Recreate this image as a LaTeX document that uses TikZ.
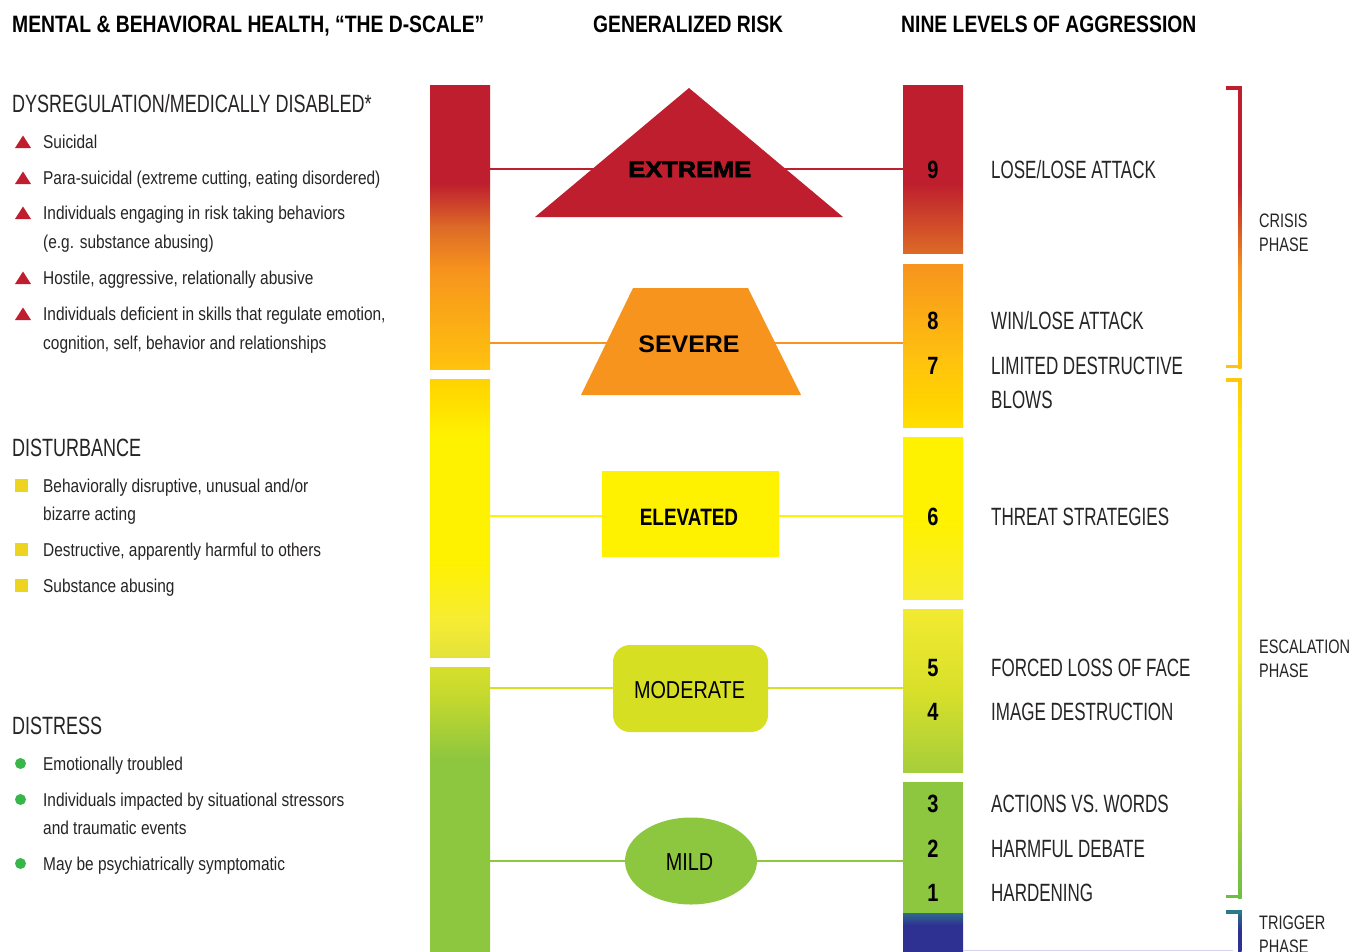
\documentclass[tikz,border=0pt]{standalone}
\usepackage{fontspec}
\setmainfont{Liberation Sans}
\newfontfamily\fntB{Liberation Sans}[FakeStretch=0.8]
\newfontfamily\fntH{Liberation Sans}[FakeStretch=0.815]
\newfontfamily\fntS{Liberation Sans}[FakeStretch=0.72]
\newfontfamily\fntC{Liberation Sans}[FakeStretch=0.68]
\newfontfamily\fntL{Liberation Sans}[FakeStretch=0.83]
\newfontfamily\fntP{Liberation Sans}[FakeStretch=0.745]
\newfontfamily\fntM{Liberation Sans}[FakeStretch=0.81]
\newfontfamily\fntX{Liberation Sans}[FakeStretch=1.14,FakeBold=3]
\newfontfamily\fntV{Liberation Sans}[FakeStretch=1.04]

\definecolor{cred}{HTML}{BE1E2D}
\definecolor{cor1}{HTML}{DD6A27}
\definecolor{corg}{HTML}{F7941D}
\definecolor{cyo2}{HTML}{FFC20E}
\definecolor{cgold}{HTML}{FFD200}
\definecolor{cyb}{HTML}{FFE000}
\definecolor{cyel}{HTML}{FFF200}
\definecolor{clyel}{HTML}{F6EC33}
\definecolor{cyl2}{HTML}{E4E23A}
\definecolor{cyg}{HTML}{D7DF23}
\definecolor{cyg1}{HTML}{D6DF2B}
\definecolor{cyg2}{HTML}{C2D82F}
\definecolor{cyg3}{HTML}{D9E02A}
\definecolor{cyg4}{HTML}{C6D92F}
\definecolor{cyt}{HTML}{F2EA31}
\definecolor{cgl}{HTML}{A6CE3A}
\definecolor{cgrn}{HTML}{8DC63F}
\definecolor{cgb}{HTML}{6DBE45}
\definecolor{cgo}{HTML}{FFC80A}
\definecolor{cblue}{HTML}{2E3192}
\definecolor{cteal}{HTML}{2D6A8C}
\definecolor{cteal2}{HTML}{2B7A8A}
\definecolor{ctxt}{HTML}{262425}
\definecolor{csq}{HTML}{EDD51F}
\definecolor{ccirc}{HTML}{3AB54A}
\definecolor{cline}{HTML}{D4D4EE}

% vertical shadings: 25bp = bottom of path, 75bp = top of path
\pgfdeclareverticalshading{lsegA}{100bp}{color(0bp)=(cyo2); color(25bp)=(cyo2); color(42.43bp)=(corg); color(50bp)=(cor1); color(57.75bp)=(cred); color(100bp)=(cred)}
\pgfdeclareverticalshading{lsegB}{100bp}{color(0bp)=(cyl2); color(25bp)=(cyl2); color(31.65bp)=(clyel); color(42.45bp)=(cyel); color(64.57bp)=(cyel); color(75bp)=(cgold); color(100bp)=(cgold)}
\pgfdeclareverticalshading{lsegC}{100bp}{color(0bp)=(cgrn); color(58.63bp)=(cgrn); color(69.19bp)=(cyg2); color(75bp)=(cyg1); color(100bp)=(cyg1)}
\pgfdeclareverticalshading{rsegA}{100bp}{color(0bp)=(cor1); color(25bp)=(cor1); color(45.83bp)=(cred); color(100bp)=(cred)}
\pgfdeclareverticalshading{rsegB}{100bp}{color(0bp)=(cyb); color(25bp)=(cyb); color(33.28bp)=(cgold); color(45.55bp)=(cyo2); color(75bp)=(corg); color(100bp)=(corg)}
\pgfdeclareverticalshading{rsegC}{100bp}{color(0bp)=(clyel); color(25bp)=(clyel); color(49.38bp)=(cyel); color(100bp)=(cyel)}
\pgfdeclareverticalshading{rsegD}{100bp}{color(0bp)=(cgl); color(25bp)=(cgl); color(50.15bp)=(cyg3); color(75bp)=(cyt); color(100bp)=(cyt)}
\pgfdeclareverticalshading{rsegE}{100bp}{color(0bp)=(cblue); color(59.2bp)=(cblue); color(75bp)=(cteal); color(100bp)=(cteal)}
\pgfdeclareverticalshading{brA}{100bp}{color(0bp)=(cyo2); color(30.5bp)=(cyo2); color(42.38bp)=(corg); color(57.09bp)=(cred); color(100bp)=(cred)}
\pgfdeclareverticalshading{brB}{100bp}{color(0bp)=(cgb); color(25bp)=(cgb); color(29.6bp)=(cgrn); color(36.83bp)=(cyg4); color(48.85bp)=(cyt); color(67.69bp)=(cyel); color(75bp)=(cgo); color(100bp)=(cgo)}
\pgfdeclareverticalshading{brC}{100bp}{color(0bp)=(cblue); color(50.6bp)=(cblue); color(75bp)=(cteal2); color(100bp)=(cteal2)}

\begin{document}
\begin{tikzpicture}[x=1pt,y=-1pt,
  hdr/.style={font=\fntH\bfseries\fontsize{23.7}{28}\selectfont, anchor=base west, inner sep=0pt, text=black},
  sect/.style={font=\fntS\fontsize{25}{30}\selectfont, anchor=base west, inner sep=0pt, text=ctxt},
  itm/.style={font=\fntL\fontsize{18.6}{22}\selectfont, anchor=base west, inner sep=0pt, text=ctxt},
  lvl/.style={font=\fntC\fontsize{25}{30}\selectfont, anchor=base west, inner sep=0pt, text=ctxt},
  numb/.style={font=\fntB\bfseries\fontsize{25}{30}\selectfont, anchor=base, inner sep=0pt, text=black},
  phs/.style={font=\fntP\fontsize{19.5}{23}\selectfont, anchor=base west, inner sep=0pt, text=ctxt},
  shplabel/.style={anchor=base, inner sep=0pt, text=black},
  conn/.style={line width=1.3pt},
]
\useasboundingbox (0,0) rectangle (1362,951);
\fill[white] (0,0) rectangle (1362,951);

% ---------- headers
\node[hdr] (h1) at (12,32) {MENTAL \& BEHAVIORAL HEALTH, “THE D-SCALE”};
\node[hdr] (h2) at (593,32) {GENERALIZED RISK};
\node[hdr] (h3) at (901,32) {NINE LEVELS OF AGGRESSION};

% ---------- left list
\node[sect] (s1) at (12,112) {DYSREGULATION/MEDICALLY DISABLED*};
\foreach \b in {148,184,219,284,320}{
  \fill[cred] (15,\b) -- (23,\b-12.5) -- (31,\b) -- cycle;
}
\node[itm] (a1) at (43,148) {Suicidal};
\node[itm] (a2) at (43,184) {Para-suicidal (extreme cutting, eating disordered)};
\node[itm] (a3) at (43,219) {Individuals engaging in risk taking behaviors};
\node[itm] (a3b) at (43,248) {(e.g. substance abusing)};
\node[itm] (a4) at (43,284) {Hostile, aggressive, relationally abusive};
\node[itm] (a5) at (43,320) {Individuals deficient in skills that regulate emotion,};
\node[itm] (a5b) at (43,349) {cognition, self, behavior and relationships};

\node[sect] (s2) at (12,456) {DISTURBANCE};
\foreach \b in {492,556,592}{
  \fill[csq] (15,\b-13) rectangle (28,\b);
}
\node[itm] (b1) at (43,492) {Behaviorally disruptive, unusual and/or};
\node[itm] (b1b) at (43,520) {bizarre acting};
\node[itm] (b2) at (43,556) {Destructive, apparently harmful to others};
\node[itm] (b3) at (43,592) {Substance abusing};

\node[sect] (s3) at (12,734) {DISTRESS};
\foreach \b in {770,806,870}{
  \fill[ccirc] (20.5,\b-6.5) circle [radius=5.5];
}
\node[itm] (c1) at (43,770) {Emotionally troubled};
\node[itm] (c2) at (43,806) {Individuals impacted by situational stressors};
\node[itm] (c2b) at (43,834) {and traumatic events};
\node[itm] (c3) at (43,870) {May be psychiatrically symptomatic};

% ---------- bars
\shade[shading=lsegA] (430,85) rectangle (490,369);
\shade[shading=lsegB] (430,379) rectangle (490,657);
\shade[shading=lsegC] (430,667) rectangle (490,951);

\shade[shading=rsegA] (903,85) rectangle (963,253);
\shade[shading=rsegB] (903,264) rectangle (963,427);
\shade[shading=rsegC] (903,437) rectangle (963,599);
\shade[shading=rsegD] (903,609) rectangle (963,772);
\fill[cgrn] (903,782) rectangle (963,913.5);
\shade[shading=rsegE] (903,913) rectangle (963,951);

% ---------- connectors
\coordinate (l1) at (490,169); \coordinate (r1) at (903,169);
\coordinate (l2) at (490,343); \coordinate (r2) at (903,343);
\coordinate (l3) at (490,516); \coordinate (r3) at (903,516);
\coordinate (l4) at (490,688); \coordinate (r4) at (903,688);
\coordinate (l5) at (490,861); \coordinate (r5) at (903,861);
\draw[conn, cred] (l1) -- (r1);
\draw[conn, corg] (l2) -- (r2);
\draw[conn, cyel] (l3) -- (r3);
\draw[conn, cyg] (l4) -- (r4);
\draw[conn, cgrn] (l5) -- (r5);

% ---------- risk shapes
\fill[cred] (535,217) -- (689,88) -- (843,217) -- cycle;
\fill[corg] (581,395) -- (633,288) -- (748,288) -- (801,395) -- cycle;
\fill[cyel] (602,471) rectangle (779,557);
\fill[cyg, rounded corners=17pt] (613,645) rectangle (768,732);
\fill[cgrn] (691,861) ellipse [x radius=66, y radius=43.5];

\node[shplabel, font=\fntX\bfseries\fontsize{22.3}{26}\selectfont] (extreme) at (689.8,177) {EXTREME};
\node[shplabel, font=\fntV\bfseries\fontsize{24}{28}\selectfont] (severe) at (689,352) {SEVERE};
\node[shplabel, font=\fntB\bfseries\fontsize{23.7}{28}\selectfont] (elevated) at (689,525) {ELEVATED};
\node[shplabel, font=\fntM\fontsize{24.5}{28}\selectfont] (moderate) at (689.5,698) {MODERATE};
\node[shplabel, font=\fntM\fontsize{24.5}{28}\selectfont] (mild) at (689.5,870) {MILD};

% ---------- levels
\node[numb] (n9) at (933,178) {9};
\node[numb] (n8) at (933,329) {8};
\node[numb] (n7) at (933,374) {7};
\node[numb] (n6) at (933,525) {6};
\node[numb] (n5) at (933,676) {5};
\node[numb] (n4) at (933,720) {4};
\node[numb] (n3) at (933,812) {3};
\node[numb] (n2) at (933,857) {2};
\node[numb] (n1) at (933,901) {1};

\node[lvl] (t9) at (991,178) {LOSE/LOSE ATTACK};
\node[lvl] (t8) at (991,329) {WIN/LOSE ATTACK};
\node[lvl] (t7) at (991,374) {LIMITED DESTRUCTIVE};
\node[lvl] (t7b) at (991,408) {BLOWS};
\node[lvl] (t6) at (991,525) {THREAT STRATEGIES};
\node[lvl] (t5) at (991,676) {FORCED LOSS OF FACE};
\node[lvl] (t4) at (991,720) {IMAGE DESTRUCTION};
\node[lvl] (t3) at (991,812) {ACTIONS VS. WORDS};
\node[lvl] (t2) at (991,857) {HARMFUL DEBATE};
\node[lvl] (t1) at (991,901) {HARDENING};

% ---------- phase brackets
\shade[shading=brA] (1238,86) rectangle (1241.5,368);
\fill[cred] (1226,86) rectangle (1241.5,89.5);
\fill[cyo2] (1226,364.5) rectangle (1241.5,368);

\shade[shading=brB] (1238,378) rectangle (1241.5,898);
\fill[cgo] (1226,378) rectangle (1241.5,381.5);
\fill[cgb] (1226,894.5) rectangle (1241.5,898);

\shade[shading=brC] (1238,910) rectangle (1241.5,951);
\fill[cteal2] (1226,910) rectangle (1241.5,913.5);

\node[phs] (p1) at (1259,227) {CRISIS};
\node[phs] (p1b) at (1259,251) {PHASE};
\node[phs] (p2) at (1259,653) {ESCALATION};
\node[phs] (p2b) at (1259,677) {PHASE};
\node[phs] (p3) at (1259,929) {TRIGGER};
\node[phs] (p3b) at (1259,953) {PHASE};

% ---------- faint bottom rule
\coordinate (fl) at (963,950.4); \coordinate (fr) at (1233,950.4);
\draw[cline, line width=1.2pt] (fl) -- (fr);
\end{tikzpicture}
\end{document}
